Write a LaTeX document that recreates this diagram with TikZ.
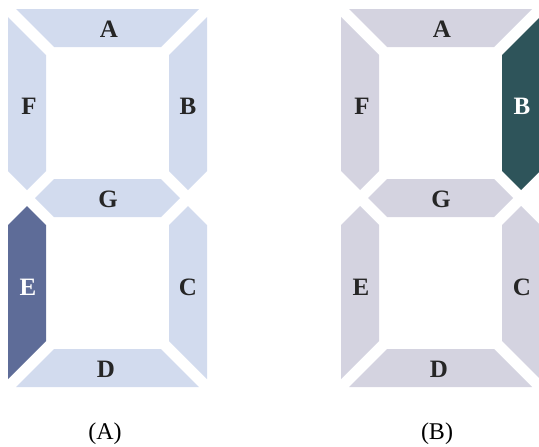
\documentclass[tikz,border=0pt]{standalone}
\usepackage{fontspec}
\setmainfont{Liberation Serif}
\definecolor{segblue}{RGB}{210,219,238}
\definecolor{segblueon}{RGB}{94,108,152}
\definecolor{seggray}{RGB}{212,211,224}
\definecolor{segtealon}{RGB}{46,84,90}
\tikzset{
  lbl/.style={font=\fontsize{25}{25}\selectfont\bfseries, text=black!85, inner sep=0pt},
  lblon/.style={lbl, text=white},
  captext/.style={font=\fontsize{24}{24}\selectfont, inner sep=0pt},
}
\begin{document}
\begin{tikzpicture}[x=1pt,y=-1pt]
\useasboundingbox (0,0) rectangle (539,447);
% ---------- digit (A) ----------
\begin{scope}
  \fill[segblue] (16,9) -- (199,9) -- (161,47) -- (54,47) -- cycle;          % A
  \fill[segblue] (35,198) -- (54,179) -- (161,179) -- (180,198) -- (161,217) -- (54,217) -- cycle; % G
  \fill[segblue] (16,387) -- (54,349) -- (161,349) -- (199,387) -- cycle;    % D
  \fill[segblue] (8,17) -- (46,55) -- (46,171) -- (27,190) -- (8,171) -- cycle; % F
  \fill[segblue] (207,17) -- (169,55) -- (169,171) -- (188,190) -- (207,171) -- cycle; % B
  \fill[segblueon] (27,206) -- (46,225) -- (46,341) -- (8,379) -- (8,225) -- cycle; % E
  \fill[segblue] (188,206) -- (207,225) -- (207,379) -- (169,341) -- (169,225) -- cycle; % C
  \node[lbl] (la) at (109,29) {A};
  \node[lbl] (lf) at (29,106) {F};
  \node[lbl] (lb) at (188,106) {B};
  \node[lbl] (lg) at (108,199) {G};
  \node[lblon] (le) at (28,287) {E};
  \node[lbl] (lc) at (188,287) {C};
  \node[lbl] (ld) at (106,369) {D};
\end{scope}
% ---------- digit (B) ----------
\begin{scope}[xshift=333pt]
  \fill[seggray] (16,9) -- (199,9) -- (161,47) -- (54,47) -- cycle;          % A
  \fill[seggray] (35,198) -- (54,179) -- (161,179) -- (180,198) -- (161,217) -- (54,217) -- cycle; % G
  \fill[seggray] (16,387) -- (54,349) -- (161,349) -- (199,387) -- cycle;    % D
  \fill[seggray] (8,17) -- (46,55) -- (46,171) -- (27,190) -- (8,171) -- cycle; % F
  \fill[segtealon] (207,17) -- (169,55) -- (169,171) -- (188,190) -- (207,171) -- cycle; % B
  \fill[seggray] (27,206) -- (46,225) -- (46,341) -- (8,379) -- (8,225) -- cycle; % E
  \fill[seggray] (188,206) -- (207,225) -- (207,379) -- (169,341) -- (169,225) -- cycle; % C
  \node[lbl] (ra) at (109,29) {A};
  \node[lbl] (rf) at (29,106) {F};
  \node[lblon] (rb) at (189,106) {B};
  \node[lbl] (rg) at (108,199) {G};
  \node[lbl] (re) at (28,287) {E};
  \node[lbl] (rc) at (189,287) {C};
  \node[lbl] (rd) at (106,369) {D};
\end{scope}
\node[captext] (capa) at (105,434) {(A)};
\node[captext] (capb) at (437,434) {(B)};
\end{tikzpicture}
\end{document}
